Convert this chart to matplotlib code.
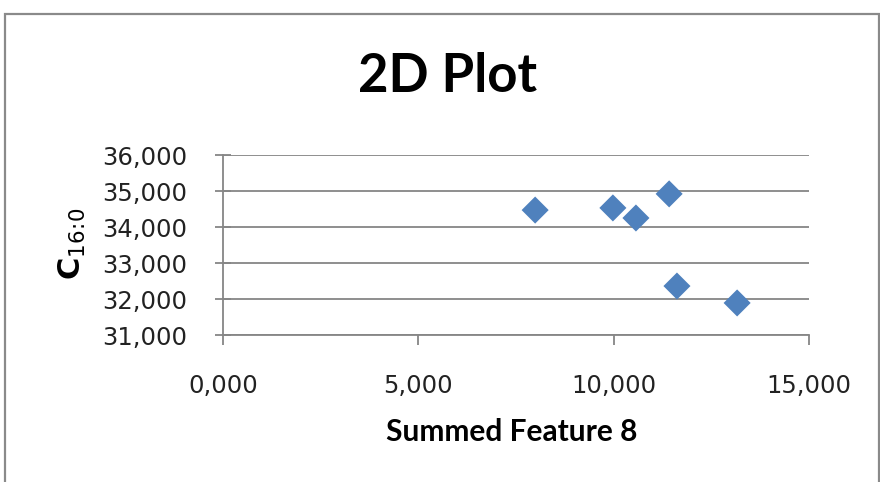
import matplotlib
matplotlib.use("Agg")
import matplotlib.pyplot as plt
from matplotlib.ticker import FuncFormatter
from matplotlib.patches import Rectangle

# Data
summed_feature_8 = [7.99, 9.98, 10.57, 11.42, 11.62, 13.16]
c16_0 = [34.47, 34.53, 34.25, 34.92, 32.36, 31.89]

x_ticks = [0, 5, 10, 15]
y_ticks = [31, 32, 33, 34, 35, 36]

fig = plt.figure(figsize=(8.8, 4.82), dpi=100)
fig.patch.set_facecolor("white")

# outer chart frame
fig.add_artist(Rectangle((5 / 880, -0.05), (874) / 880, 1.05 - 14 / 482,
                         transform=fig.transFigure, fill=False,
                         edgecolor="#8a8a8a", linewidth=1.6))

ax = fig.add_axes([223 / 880, 1 - 335 / 482, (809 - 223) / 880, (335 - 155) / 482])

gray = "#868686"
ax.scatter(summed_feature_8, c16_0, marker="D", s=190, color="#4F81BD",
           edgecolors="none", zorder=3)

ax.set_xlim(0, 15)
ax.set_ylim(31, 36)
ax.set_xticks(x_ticks)
ax.set_yticks(y_ticks)

fmt = FuncFormatter(lambda v, p: f"{v:.3f}".replace(".", ","))
ax.xaxis.set_major_formatter(fmt)
ax.yaxis.set_major_formatter(fmt)

for s in ["top", "right"]:
    ax.spines[s].set_visible(False)
for s in ["left", "bottom"]:
    ax.spines[s].set_color(gray)
    ax.spines[s].set_linewidth(1.3)

ax.grid(axis="y", color=gray, linewidth=1.3)
ax.set_axisbelow(True)

ax.tick_params(axis="x", direction="out", length=7, width=1.3, color=gray,
               pad=21, labelsize=17.5, labelcolor="#222222")
ax.tick_params(axis="y", direction="inout", length=12, width=1.3, color=gray,
               pad=20, labelsize=17.5, labelcolor="#222222")

fig.text(448 / 880, 1 - 77 / 482, "2D Plot", ha="center", va="center",
         fontsize=38, fontweight="bold", family="Lato")
fig.text(512 / 880, 1 - 432 / 482, "Summed Feature 8", ha="center", va="center",
         fontsize=21.5, fontweight="bold", family="Lato")
fig.text(72 / 880, 1 - 244 / 482, r"$\mathbf{C}_{16\!:\!0}$", ha="center", va="center",
         rotation=90, fontsize=22)

fig.savefig("out.png", dpi=100, facecolor="white")
